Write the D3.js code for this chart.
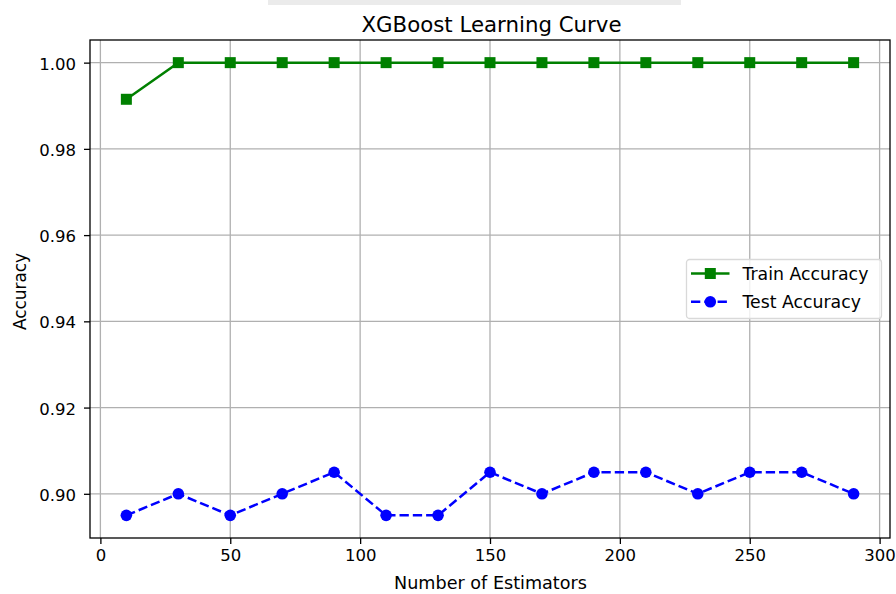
<!DOCTYPE html>
<html>
<head>
<meta charset="utf-8">
<script src="https://cdn.jsdelivr.net/npm/d3@7"></script>
<style>
  html, body { margin: 0; padding: 0; background: #fff; }
  svg { display: block; font-family: "DejaVu Sans", sans-serif; }
</style>
</head>
<body>
<svg id="chart" width="896" height="594"></svg>
<script>
// Learning curve data: accuracy vs number of estimators
const estimators = [10, 30, 50, 70, 90, 110, 130, 150, 170, 190, 210, 230, 250, 270, 290];
const trainAccuracy = [0.9915, 1.0, 1.0, 1.0, 1.0, 1.0, 1.0, 1.0, 1.0, 1.0, 1.0, 1.0, 1.0, 1.0, 1.0];
const testAccuracy = [0.895, 0.9, 0.895, 0.9, 0.905, 0.895, 0.895, 0.905, 0.9, 0.905, 0.905, 0.9, 0.905, 0.905, 0.9];
const xTicks = [0, 50, 100, 150, 200, 250, 300];
const yTicks = [0.90, 0.92, 0.94, 0.96, 0.98, 1.00];

const svg = d3.select("#chart");
const plot = { left: 90, right: 890, top: 40, bottom: 538 };
const dash = "9.3,4";

// faint band along the top edge
svg.append("rect").attr("x", 268).attr("y", 0).attr("width", 413).attr("height", 5)
  .attr("fill", "#ebebeb");

const x = d3.scaleLinear().domain([-4, 304]).range([plot.left, plot.right]);
const y = d3.scaleLinear().domain([0.88975, 1.00525]).range([plot.bottom, plot.top]);

// grid
const grid = svg.append("g").attr("stroke", "#b0b0b0").attr("stroke-width", 1.3);
xTicks.forEach(t => grid.append("line")
  .attr("x1", x(t)).attr("x2", x(t)).attr("y1", plot.top).attr("y2", plot.bottom));
yTicks.forEach(t => grid.append("line")
  .attr("x1", plot.left).attr("x2", plot.right).attr("y1", y(t)).attr("y2", y(t)));

// axes
const xAxis = svg.append("g").attr("transform", `translate(0,${plot.bottom})`)
  .call(d3.axisBottom(x).tickValues(xTicks).tickFormat(d3.format("d")).tickSize(6).tickPadding(5));
const yAxis = svg.append("g").attr("transform", `translate(${plot.left},0)`)
  .call(d3.axisLeft(y).tickValues(yTicks).tickFormat(d3.format(".2f")).tickSize(6).tickPadding(8));
[xAxis, yAxis].forEach(a => {
  a.select(".domain").remove();
  a.selectAll("text").attr("font-size", 16.5).attr("fill", "#000").attr("font-family", "DejaVu Sans");
  a.selectAll("line").attr("stroke", "#000").attr("stroke-width", 1.3);
});
yAxis.selectAll("text").attr("dy", "0.40em");

// frame
svg.append("rect").attr("x", plot.left).attr("y", plot.top)
  .attr("width", plot.right - plot.left).attr("height", plot.bottom - plot.top)
  .attr("fill", "none").attr("stroke", "#000").attr("stroke-width", 1.3);

// train series
const line = d3.line().x((d, i) => x(estimators[i])).y(d => y(d));
svg.append("path").datum(trainAccuracy).attr("d", line)
  .attr("fill", "none").attr("stroke", "green").attr("stroke-width", 2.5);
svg.append("g").selectAll("rect").data(trainAccuracy).join("rect")
  .attr("x", (d, i) => x(estimators[i]) - 5.5).attr("y", d => y(d) - 5.5)
  .attr("width", 11).attr("height", 11).attr("fill", "green");

// test series
svg.append("path").datum(testAccuracy).attr("d", line)
  .attr("fill", "none").attr("stroke", "blue").attr("stroke-width", 2.5)
  .attr("stroke-dasharray", dash);
svg.append("g").selectAll("circle").data(testAccuracy).join("circle")
  .attr("cx", (d, i) => x(estimators[i])).attr("cy", d => y(d))
  .attr("r", 5.8).attr("fill", "blue");

// title and axis labels
svg.append("text").attr("x", 491.5).attr("y", 32)
  .attr("text-anchor", "middle").attr("font-size", 21.3).text("XGBoost Learning Curve");
svg.append("text").attr("x", 490.5).attr("y", 589)
  .attr("text-anchor", "middle").attr("font-size", 17.6).text("Number of Estimators");
svg.append("text").attr("transform", `translate(26,291.5) rotate(-90)`)
  .attr("text-anchor", "middle").attr("font-size", 16.9).text("Accuracy");

// legend
const lg = svg.append("g").attr("transform", "translate(686.5,259.5)");
lg.append("rect").attr("width", 195).attr("height", 59).attr("rx", 3)
  .attr("fill", "#fff").attr("fill-opacity", 0.8).attr("stroke", "#d9d9d9").attr("stroke-width", 1.3);
const items = [
  { label: "Train Accuracy", color: "green", dash: null, marker: "square" },
  { label: "Test Accuracy", color: "blue", dash: dash, marker: "circle" }
];
items.forEach((it, i) => {
  const cy = 14 + i * 28.3;
  const g = lg.append("g").attr("transform", `translate(0,${cy})`);
  g.append("line").attr("x1", 4.5).attr("x2", 43).attr("y1", 0).attr("y2", 0)
    .attr("stroke", it.color).attr("stroke-width", 2.5).attr("stroke-dasharray", it.dash);
  if (it.marker === "square") {
    g.append("rect").attr("x", 18.3).attr("y", -5.5).attr("width", 11).attr("height", 11).attr("fill", it.color);
  } else {
    g.append("circle").attr("cx", 23.8).attr("cy", 0).attr("r", 5.8).attr("fill", it.color);
  }
  g.append("text").attr("x", 56).attr("y", 6).attr("font-size", 17.3).text(it.label);
});
</script>
</body>
</html>
